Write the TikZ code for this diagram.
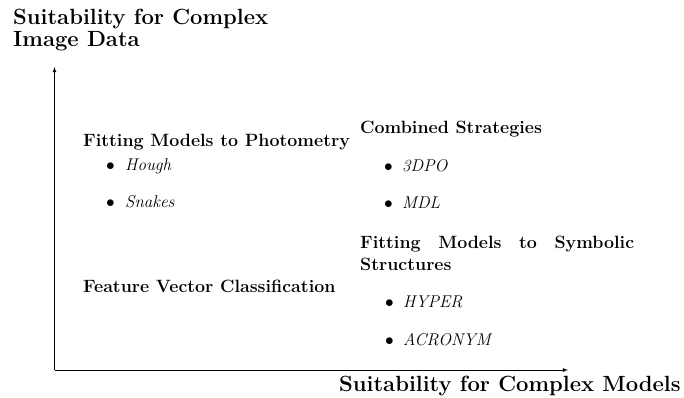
\documentclass[tikz,border=0pt]{standalone}
\usetikzlibrary{positioning}

\begin{document}
\begin{tikzpicture}[x=1pt,y=-1pt,>=latex,
    axislabel/.style={anchor=base west,inner sep=0pt,font=\fontsize{22}{22}\selectfont\bfseries},
    heading/.style={anchor=base west,inner sep=0pt,font=\fontsize{17.8}{22}\selectfont\bfseries},
    entry/.style={anchor=base west,inner sep=0pt,font=\fontsize{17}{19}\selectfont}]
  \useasboundingbox (0,0) rectangle (684,397);
  % Les axes
  \coordinate (origin) at (54.5,370);
  \coordinate (ytip) at (54.5,67);
  \coordinate (xtip) at (568,370);
  \draw[thick,->] (origin) -- (ytip);
  \draw[thick,->] (origin) -- (xtip);
  \node[axislabel,align=left] (ylabel) at (13,46)
      {Suitability for Complex\\Image Data};
  \node[axislabel] (xlabel) at (339,391) {Suitability for Complex Models};

  % Les familles de methodes
  \node[heading] (photometry) at (83,146) {Fitting Models to Photometry};
  \node[entry] (hough) at (106,170) {\makebox[19pt][l]{$\bullet$}\textit{Hough}};
  \node[entry] (snakes) at (106,207) {\makebox[19pt][l]{$\bullet$}\textit{Snakes}};

  \node[heading] (combined) at (360,133) {Combined Strategies};
  \node[entry] (tdpo) at (384,171) {\makebox[18pt][l]{$\bullet$}\textit{3DPO}};
  \node[entry] (mdl) at (384,208) {\makebox[18pt][l]{$\bullet$}\textit{MDL}};

  \node[heading,align=left] (symbolic) at (360,270)
      {\makebox[274pt][s]{Fitting Models to Symbolic}\\Structures};
  \node[entry] (hyper) at (385,307) {\makebox[18pt][l]{$\bullet$}\textit{HYPER}};
  \node[entry] (acronym) at (385,345) {\makebox[18pt][l]{$\bullet$}\textit{ACRONYM}};

  \node[heading] (feature) at (83,292) {Feature Vector Classification};
\end{tikzpicture}
\end{document}
